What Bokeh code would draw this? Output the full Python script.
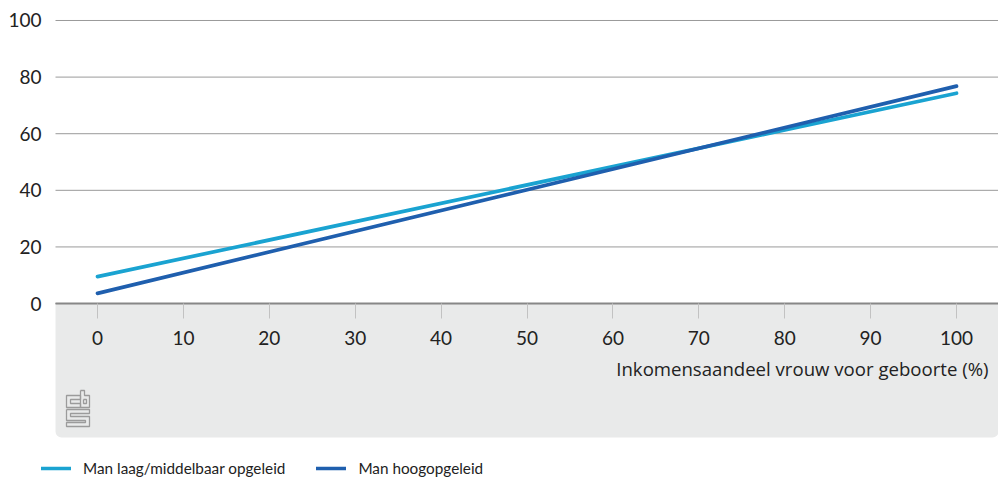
from bokeh.plotting import figure
from bokeh.models import (FixedTicker, BoxAnnotation, Legend, LegendItem, Range1d, Label)
from bokeh.embed import file_html
from bokeh.resources import INLINE

# ---- data ----
share = [0, 100]                     # Inkomensaandeel vrouw voor geboorte (%)
laag_middelbaar = [9.5, 74.3]        # Man laag/middelbaar opgeleid
hoog = [3.6, 76.8]                   # Man hoogopgeleid
series_names = ["Man laag/middelbaar opgeleid", "Man hoogopgeleid"]
y_ticks = [0, 20, 40, 60, 80, 100]
x_ticks = [0, 10, 20, 30, 40, 50, 60, 70, 80, 90, 100]
x_title = "Inkomensaandeel vrouw voor geboorte (%)"

# logo outline (pixel offsets within the small cbs mark)
LOGO = [
    [(14, 5), (0, 5), (0, 17), (14, 17), (14, 13), (4, 13), (4, 9), (14, 9), (14, 5)],
    [(14, 0), (18, 0), (18, 5), (23, 5), (23, 17), (14, 17), (14, 0)],
    [(17, 9), (20, 9), (20, 13), (17, 13), (17, 9)],
    [(0, 19), (23, 19), (23, 23), (4, 23), (4, 26), (23, 26), (23, 36), (0, 36),
     (0, 32), (19, 32), (19, 30), (0, 30), (0, 19)],
]

LIGHT = "#1aa3d1"
DARK = "#1f5fae"
TEXT = "#222222"
TICK_FONT = "Lato"

# scale: 8.59 px per x unit, 2.831 px per y unit
PXX, PXY = 8.59, 2.831
X0 = -56 / PXX           # frame left (legend starts here)
XL = -42 / PXX           # left edge of plot panel (grid, band)
X1 = 100 + 42 / PXX
Y1 = 100 + 1 / PXY
Y0 = -177 / PXY
YB = -134 / PXY          # bottom of grey band

p = figure(width=998, height=480, output_backend="svg", toolbar_location=None,
           x_range=Range1d(X0, X1), y_range=Range1d(Y0, Y1),
           min_border_left=41, min_border_right=0, min_border_top=19,
           min_border_bottom=0)
p.outline_line_color = None
p.background_fill_color = "white"
p.border_fill_color = "white"

band = BoxAnnotation(left=XL, top=0, bottom=YB, fill_color="#e9eaea", fill_alpha=1,
                     line_color=None, level="underlay", border_radius=(0, 0, 6, 6))
p.add_layout(band)

# grid lines limited to the plot panel
p.xgrid.visible = False
p.ygrid.visible = False
p.segment(x0=XL, x1=X1, y0=y_ticks, y1=y_ticks, line_color="#9a9a9a", line_width=1)

# y axis
p.yaxis.ticker = FixedTicker(ticks=y_ticks)
p.yaxis.axis_line_color = None
p.yaxis.major_tick_line_color = None
p.yaxis.minor_tick_line_color = None
p.yaxis.major_label_standoff = -6
p.yaxis.major_label_text_font = TICK_FONT
p.yaxis.major_label_text_font_size = "19px"
p.yaxis.major_label_text_color = TEXT

# x axis at y = 0
xa = p.xaxis[0]
xa.fixed_location = 0
xa.bounds = (XL, X1)
xa.ticker = FixedTicker(ticks=x_ticks)
xa.axis_line_color = "#878787"
xa.axis_line_width = 2
xa.major_tick_line_color = "#c2c2c2"
xa.major_tick_in = 0
xa.major_tick_out = 15
xa.minor_tick_line_color = None
xa.major_label_standoff = 12
xa.major_label_text_font = TICK_FONT
xa.major_label_text_font_size = "19px"
xa.major_label_text_color = TEXT

# axis title, right-aligned in the grey panel
title = Label(x=100 + 32 / PXX, y=-65 / PXY, text=x_title, text_align="right",
              text_baseline="middle", text_font="Open Sans",
              text_font_size="18.6px", text_color=TEXT)
p.add_layout(title)

# logo converted from pixel offsets via the plot scales
lx0 = XL + 11 / PXX
ly0 = -87 / PXY
logo_xs = [[lx0 + a / PXX for a, b in path] for path in LOGO]
logo_ys = [[ly0 - b / PXY for a, b in path] for path in LOGO]
p.multi_line(logo_xs, logo_ys, line_color="#9b9b9b", line_width=1.3)

r1 = p.line(share, laag_middelbaar, line_color=LIGHT, line_width=3.7, line_cap="round")
r2 = p.line(share, hoog, line_color=DARK, line_width=3.7, line_cap="round")

legend = Legend(items=[LegendItem(label=series_names[0], renderers=[r1]),
                       LegendItem(label=series_names[1], renderers=[r2])],
                orientation="horizontal", location=(0, 2),
                glyph_width=30, glyph_height=20, label_height=20,
                label_standoff=12, spacing=31, padding=0, margin=0,
                border_line_color=None, background_fill_alpha=0,
                label_text_font="Lato",
                label_text_font_size="15.3px", label_text_color=TEXT)
p.add_layout(legend)

open("out.html", "w").write(file_html(p, INLINE))
